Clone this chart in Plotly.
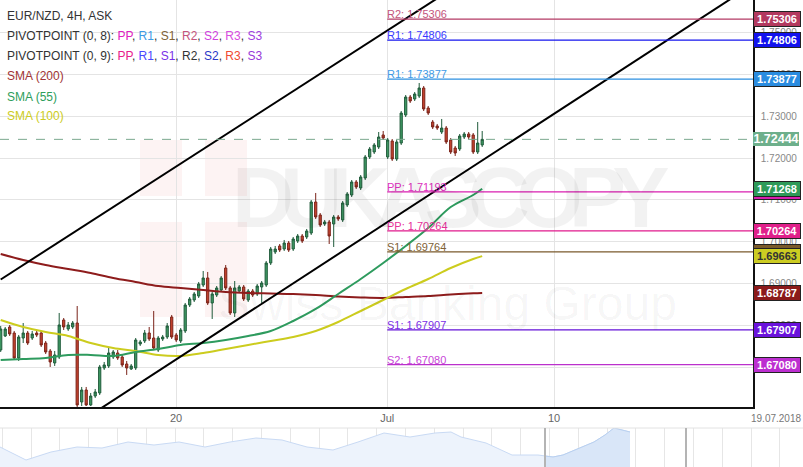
import plotly.graph_objects as go

# ---------------- data ----------------
bars = list(range(108))
opens = [1.67429,1.67762,1.67976,1.67833,1.67238,1.67714,1.67833,1.67714,1.67833,1.67833,
         1.67595,1.67405,1.67119,1.67262,1.68143,1.67929,1.67976,1.68071,1.66190,1.66476,
         1.66119,1.66333,1.66405,1.67000,1.67048,1.67262,1.67357,1.67262,1.67095,1.66976,
         1.67000,1.67571,1.67643,1.67833,1.67714,1.67429,1.67691,1.67738,1.68214,1.67786,
         1.67643,1.67881,1.68500,1.68619,1.68714,1.68976,1.69143,1.68548,1.68738,1.68857,
         1.69381,1.68905,1.68310,1.68833,1.68929,1.68619,1.68833,1.68762,1.68929,1.68976,
         1.69500,1.69762,1.69905,1.69833,1.69976,1.69833,1.70024,1.70143,1.70119,1.70214,
         1.70952,1.70643,1.70429,1.70476,1.70429,1.70595,1.70524,1.70881,1.71119,1.71429,
         1.71286,1.71524,1.72024,1.72143,1.72262,1.72548,1.72024,1.72405,1.71976,1.72357,
         1.73024,1.73452,1.73405,1.73476,1.73667,1.73190,1.72857,1.72762,1.72619,1.72714,
         1.72429,1.72238,1.72214,1.72500,1.72571,1.72548,1.72143,1.72310]
highs = [1.68000,1.67976,1.68024,1.67881,1.67786,1.68071,1.67881,1.67881,1.67881,1.67881,
         1.67643,1.67452,1.67405,1.68310,1.68190,1.68095,1.68119,1.68476,1.66548,1.66548,
         1.66405,1.66500,1.67072,1.67143,1.67476,1.67429,1.67429,1.67310,1.67167,1.67095,
         1.67714,1.67667,1.67905,1.67976,1.68357,1.67762,1.67786,1.68071,1.68262,1.67833,
         1.67952,1.68548,1.68690,1.68810,1.69048,1.69310,1.69286,1.68810,1.68952,1.69190,
         1.69452,1.68952,1.69071,1.68976,1.68976,1.68881,1.68881,1.69000,1.69071,1.69548,
         1.69881,1.69905,1.69952,1.70048,1.70024,1.70119,1.70190,1.70190,1.70310,1.71000,
         1.71167,1.70690,1.70524,1.70524,1.70643,1.70643,1.70976,1.71190,1.71476,1.71476,
         1.71595,1.72071,1.72262,1.72357,1.72619,1.72643,1.72476,1.72452,1.72429,1.73119,
         1.73500,1.73500,1.73571,1.73786,1.73714,1.73238,1.72905,1.72810,1.72929,1.72762,
         1.72476,1.72286,1.72571,1.72619,1.72619,1.72595,1.72857,1.72643]
lows = [1.67381,1.67738,1.67762,1.67191,1.67167,1.67595,1.67548,1.67667,1.67738,1.67500,
        1.67333,1.67024,1.67048,1.67214,1.67905,1.67881,1.67929,1.66071,1.66095,1.66095,
        1.66095,1.66286,1.66357,1.66953,1.67000,1.67214,1.67191,1.67024,1.66834,1.66953,
        1.66953,1.67524,1.67595,1.67643,1.67429,1.67381,1.67643,1.67691,1.67691,1.67619,
        1.67595,1.67833,1.68452,1.68571,1.68667,1.68929,1.68500,1.68167,1.68690,1.68810,
        1.68857,1.68262,1.68214,1.68786,1.68595,1.68571,1.68690,1.68714,1.68548,1.68929,
        1.69452,1.69714,1.69762,1.69786,1.69762,1.69786,1.69976,1.69976,1.70071,1.70167,
        1.70548,1.70357,1.70381,1.69952,1.69881,1.70500,1.70476,1.70833,1.71071,1.71262,
        1.71238,1.71476,1.71976,1.72095,1.72214,1.72429,1.71976,1.71929,1.71929,1.72310,
        1.72976,1.73310,1.73357,1.73429,1.73119,1.73024,1.72690,1.72667,1.72571,1.72333,
        1.72095,1.72048,1.72167,1.72452,1.72452,1.72095,1.72095,1.72262]
closes = [1.67929,1.67929,1.67810,1.67238,1.67738,1.67833,1.67595,1.67810,1.67786,1.67548,
          1.67381,1.67143,1.67310,1.68024,1.67976,1.68024,1.68071,1.66119,1.66476,1.66119,
          1.66333,1.66429,1.67024,1.67072,1.67357,1.67381,1.67238,1.67072,1.67000,1.67048,
          1.67667,1.67619,1.67833,1.67691,1.67476,1.67714,1.67738,1.68000,1.67738,1.67667,
          1.67905,1.68500,1.68643,1.68762,1.69000,1.69143,1.68548,1.68762,1.68905,1.69143,
          1.68905,1.68310,1.68905,1.68929,1.68643,1.68833,1.68738,1.68952,1.69024,1.69500,
          1.69833,1.69833,1.69810,1.69976,1.69810,1.70071,1.70143,1.70024,1.70262,1.70952,
          1.70595,1.70405,1.70476,1.70143,1.70595,1.70548,1.70929,1.71143,1.71429,1.71310,
          1.71548,1.72024,1.72214,1.72310,1.72500,1.72476,1.72429,1.71976,1.72381,1.73071,
          1.73452,1.73357,1.73524,1.73667,1.73167,1.73071,1.72738,1.72714,1.72714,1.72381,
          1.72143,1.72119,1.72524,1.72571,1.72500,1.72143,1.72357,1.72444]

sma_bars = [0,5,10,15,20,25,30,35,40,45,50,55,60,65,70,75,80,85,90,95,100,105,107]
sma200 = [1.69714,1.69571,1.69452,1.69357,1.69262,1.69143,1.69048,1.68952,1.68905,1.68857,
          1.68810,1.68786,1.68774,1.68762,1.68738,1.68702,1.68679,1.68667,1.68690,1.68714,
          1.68750,1.68780,1.68787]
sma55 = [1.67191,1.67214,1.67238,1.67310,1.67310,1.67286,1.67381,1.67452,1.67548,1.67595,
         1.67667,1.67762,1.67881,1.68119,1.68405,1.68762,1.69119,1.69500,1.69905,1.70333,
         1.70833,1.71119,1.71268]
sma100 = [1.68143,1.67976,1.67857,1.67762,1.67595,1.67476,1.67405,1.67310,1.67286,1.67357,
          1.67452,1.67548,1.67643,1.67738,1.67881,1.68095,1.68357,1.68619,1.68881,1.69119,
          1.69381,1.69595,1.69663]

last_price = 1.72444
week_start = 85.9          # bar position of the weekly open (Jul 1)

pivot_labels = ["R2: 1.75306", "R1: 1.74806", "R1: 1.73877", "PP: 1.71193",
                "PP: 1.70264", "S1: 1.69764", "S1: 1.67907", "S2: 1.67080"]
pivot_values = [1.75306, 1.74806, 1.73877, 1.71193, 1.70264, 1.69764, 1.67907, 1.67080]
pivot_colors = ["#b33a64", "#1414ee", "#2d8fe0", "#d91fb0", "#e01a8c", "#7a5a2c", "#6512d8", "#bb30cc"]
pivot_text_colors = ["#c4557c", "#3a3aff", "#3d9ae6", "#e030c0", "#e8309a", "#806236", "#7a2ee6", "#c845d8"]

chan_upper_x = [0, 100]
chan_upper_y = [1.69107, 1.76007]
chan_lower_x = [20, 170]
chan_lower_y = [1.65881, 1.76329]

x_tick_vals = [38.96, 85.9, 122.96]
x_tick_text = ["20", "Jul", "10"]
y_tick_vals = [1.67, 1.68, 1.69, 1.70, 1.71, 1.72, 1.73, 1.74, 1.75]
y_tick_text = ["%.5f" % v for v in y_tick_vals]

x_range = [-0.156, 167.18]
y_range = [1.66071, 1.75762]

nav_x = [0, 26, 51, 77, 102, 128, 154, 179, 205, 230, 256, 282, 307, 333, 358, 384, 410,
         435, 451, 461, 486, 512, 538, 545, 553, 563, 579, 594, 605, 614, 622, 630]
nav_v = [20, 7, 15, 20, 19, 25, 22, 25, 20, 25, 29, 27, 20, 17, 25, 34, 30,
         34, 35, 30, 24, 12, 12, 11, 10, 12, 19, 25, 32, 39, 37, 35]
nav_sel_start = 545
nav_sel_end = 686

FONT = "Liberation Sans, Arial, sans-serif"

fig = go.Figure()

# SMA lines
fig.add_trace(go.Scatter(x=sma_bars, y=sma200, mode="lines", line=dict(color="#8e1c1c", width=2, shape="spline"),
                         hoverinfo="skip"))
fig.add_trace(go.Scatter(x=sma_bars, y=sma100, mode="lines", line=dict(color="#cccc1e", width=2, shape="spline"),
                         hoverinfo="skip"))
fig.add_trace(go.Scatter(x=sma_bars, y=sma55, mode="lines", line=dict(color="#2e9b5e", width=2, shape="spline"),
                         hoverinfo="skip"))

# candles
fig.add_trace(go.Candlestick(
    x=bars, open=opens, high=highs, low=lows, close=closes,
    increasing=dict(line=dict(color="#1f5a3a", width=1), fillcolor="#3f9b64"),
    decreasing=dict(line=dict(color="#7a2319", width=1), fillcolor="#c8442f"),
    whiskerwidth=0, hoverinfo="skip"))

# channel lines
fig.add_trace(go.Scatter(x=chan_upper_x, y=chan_upper_y, mode="lines",
                         line=dict(color="#000000", width=2), hoverinfo="skip"))
fig.add_trace(go.Scatter(x=chan_lower_x, y=chan_lower_y, mode="lines",
                         line=dict(color="#000000", width=2), hoverinfo="skip"))

# pivot lines
for val, col in zip(pivot_values, pivot_colors):
    fig.add_trace(go.Scatter(x=[week_start, x_range[1]], y=[val, val], mode="lines",
                             line=dict(color=col, width=1.3), hoverinfo="skip"))

# navigator
fig.add_trace(go.Scatter(x=nav_x, y=nav_v, mode="lines", fill="tozeroy",
                         fillcolor="#edf3fc", line=dict(color="#c9daf4", width=1),
                         xaxis="x2", yaxis="y2", hoverinfo="skip"))
sel_x = [x for x in nav_x if x >= nav_sel_start]
sel_v = [v for x, v in zip(nav_x, nav_v) if x >= nav_sel_start]
fig.add_trace(go.Scatter(x=sel_x, y=sel_v, mode="lines", fill="tozeroy",
                         fillcolor="#d9e6f8", line=dict(color="#b9d0f0", width=1),
                         xaxis="x2", yaxis="y2", hoverinfo="skip"))

ann = []
# pivot labels
for lab, val, tc in zip(pivot_labels, pivot_values, pivot_text_colors):
    ann.append(dict(x=week_start, y=val, xref="x", yref="y", text=lab, showarrow=False,
                    xanchor="left", yanchor="bottom", yshift=-3, xshift=-2,
                    font=dict(family=FONT, size=11, color=tc)))

# right-hand value boxes (drawn in order, later on top)
boxes = [
    (pivot_values[0], "#b3395f", "#ffffff"),
    (pivot_values[1], "#1212ee", "#ffffff"),
    (pivot_values[2], "#2a8ce0", "#ffffff"),
    (pivot_values[3], "#d91fb0", "#ffffff"),
    (sma55[-1], "#2e9a58", "#ffffff"),
    (pivot_values[4], "#e0208a", "#ffffff"),
    (pivot_values[5], "#7a5a2a", "#ffffff"),
    (sma100[-1], "#cccc22", "#333333"),
    (sma200[-1], "#8b1a1a", "#ffffff"),
    (pivot_values[6], "#6a12dc", "#ffffff"),
    (pivot_values[7], "#bc2ed0", "#ffffff"),
]
XR = 753 / 803
for val, bg, fc in boxes:
    ann.append(dict(x=XR, y=val, xref="paper", yref="y", text="<b>%.5f</b>" % val, showarrow=False,
                    xanchor="left", yanchor="middle", width=44, height=12, borderpad=1,
                    bgcolor=bg, bordercolor="#222222", borderwidth=1,
                    font=dict(family=FONT, size=11, color=fc)))
ann.append(dict(x=XR, y=last_price, xref="paper", yref="y", text="<b>%.5f</b>" % last_price,
                showarrow=False, xanchor="left", yanchor="middle", width=46, height=14, borderpad=0,
                bgcolor="#6daf8b", borderwidth=0, font=dict(family=FONT, size=12.5, color="#ffffff")))

# legend texts
H = 467
legend_lines = [
    (15.5, '<span style="color:#333333">EUR/NZD, 4H, ASK</span>'),
    (36, '<span style="color:#333333">PIVOTPOINT (0, 8): </span>'
         '<span style="color:#e020c0">PP</span>, <span style="color:#3d9ae6">R1</span>, '
         '<span style="color:#806236">S1</span>, <span style="color:#c4557c">R2</span>, '
         '<span style="color:#d040e0">S2</span>, <span style="color:#d84ee0">R3</span>, '
         '<span style="color:#a040e0">S3</span>'),
    (55.5, '<span style="color:#333333">PIVOTPOINT (0, 9): </span>'
           '<span style="color:#e8208c">PP</span>, <span style="color:#4848ff">R1</span>, '
           '<span style="color:#7a30e8">S1</span>, <span style="color:#333333">R2</span>, '
           '<span style="color:#2a38c8">S2</span>, <span style="color:#f04a30">R3</span>, '
           '<span style="color:#9838d8">S3</span>'),
    (76, '<span style="color:#a03434">SMA (200)</span>'),
    (96.5, '<span style="color:#2e9e5b">SMA (55)</span>'),
    (116, '<span style="color:#cccc22">SMA (100)</span>'),
]
for ypx, txt in legend_lines:
    ann.append(dict(x=5 / 803, y=1 - ypx / H, xref="paper", yref="paper", text=txt, showarrow=False,
                    xanchor="left", yanchor="middle", font=dict(family=FONT, size=12, color="#333333")))

# date stamp
ann.append(dict(x=776 / 803, y=1 - 418 / H, xref="paper", yref="paper", text="19.07.2018",
                showarrow=False, xanchor="center", yanchor="middle",
                font=dict(family=FONT, size=10, color="#777777")))

# watermark
ann.append(dict(x=450 / 803, y=1 - 197 / H, xref="paper", yref="paper",
                text='<span style="letter-spacing:-14px">DUKASCOPY</span>',
                showarrow=False, xanchor="center", yanchor="middle",
                font=dict(family=FONT, size=86, weight="bold", color="rgba(0,0,0,0.05)")))
ann.append(dict(x=447 / 803, y=1 - 303 / H, xref="paper", yref="paper", text="Swiss Banking Group",
                showarrow=False, xanchor="center", yanchor="middle",
                font=dict(family=FONT, size=48, color="rgba(0,0,0,0.04)")))

shapes = [
    # logo (pale red square with white cross)
    dict(type="rect", xref="paper", yref="paper", x0=140 / 803, x1=247 / 803,
         y0=1 - 317 / H, y1=1 - 140 / H, fillcolor="rgba(225,80,80,0.07)", line=dict(width=0), layer="below"),
    dict(type="rect", xref="paper", yref="paper", x0=182 / 803, x1=205 / 803,
         y0=1 - 317 / H, y1=1 - 140 / H, fillcolor="#ffffff", line=dict(width=0), layer="below"),
    dict(type="rect", xref="paper", yref="paper", x0=140 / 803, x1=247 / 803,
         y0=1 - 222 / H, y1=1 - 196 / H, fillcolor="#ffffff", line=dict(width=0), layer="below"),
    # last price dashed line
    dict(type="line", xref="x domain", yref="y", x0=0, x1=1, y0=last_price, y1=last_price,
         line=dict(color="#7aa88e", width=1, dash="dash")),
    # navigator frame
    dict(type="line", xref="paper", yref="paper", x0=0, x1=1, y0=39 / H, y1=39 / H,
         line=dict(color="#e2e2e2", width=1)),
    dict(type="line", xref="x2", yref="paper", x0=nav_sel_start, x1=nav_sel_start, y0=0, y1=39 / H,
         line=dict(color="#b4b4b4", width=2)),
    dict(type="line", xref="x2", yref="paper", x0=nav_sel_end, x1=nav_sel_end, y0=0, y1=39 / H,
         line=dict(color="#b4b4b4", width=2)),
]

fig.update_layout(
    width=803, height=467, margin=dict(l=0, r=0, t=0, b=0),
    paper_bgcolor="#ffffff", plot_bgcolor="#ffffff", showlegend=False,
    font=dict(family=FONT),
    annotations=ann, shapes=shapes,
    xaxis=dict(domain=[0, XR], range=x_range, tickvals=x_tick_vals, ticktext=x_tick_text,
               showgrid=True, gridcolor="#e4e4e4", gridwidth=1, zeroline=False,
               showline=True, linecolor="#111111", linewidth=1.5, ticks="",
               tickfont=dict(family=FONT, size=11, color="#666666"),
               rangeslider=dict(visible=False), anchor="y", automargin=False),
    yaxis=dict(domain=[60 / H, 1], range=y_range, side="right", tickvals=y_tick_vals, ticktext=y_tick_text,
               showgrid=True, gridcolor="#e4e4e4", gridwidth=1, zeroline=False,
               showline=True, linecolor="#111111", linewidth=1.5, ticks="", ticklabelstandoff=4,
               tickfont=dict(family=FONT, size=10, color="#888888"), anchor="x", automargin=False),
    xaxis2=dict(domain=[0, 1], range=[0, 803], anchor="y2", showgrid=True, gridcolor="#e6e6e6",
                tick0=2.3, dtick=28.8, showticklabels=False, zeroline=False, ticks=""),
    yaxis2=dict(domain=[0, 39 / H], range=[0, 39], anchor="x2", showgrid=False, showticklabels=False,
                zeroline=False, ticks=""),
)

fig.write_html("out.html", config={"displayModeBar": False},
               post_script="document.body.style.margin='0';document.body.style.overflow='hidden';")
